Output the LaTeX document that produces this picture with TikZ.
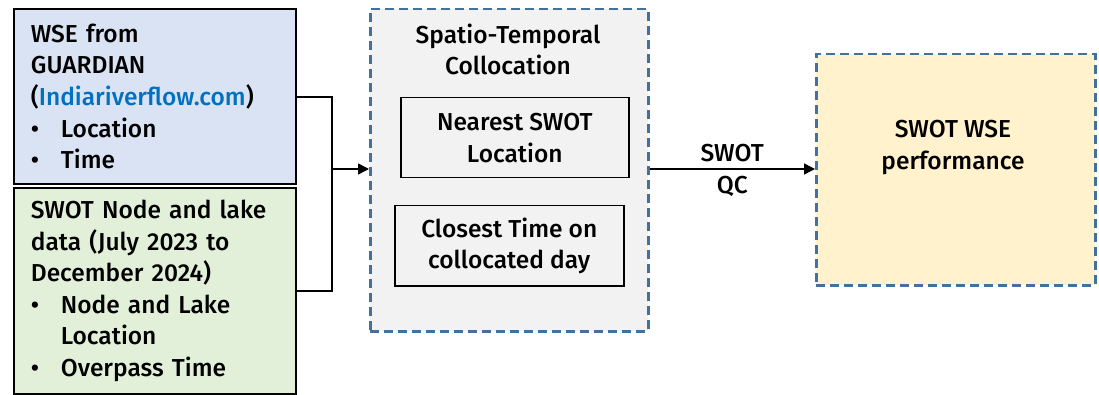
\documentclass[tikz,border=0pt]{standalone}
\usepackage{fontspec}
\setmainfont{Fira Sans}[UprightFont=* Medium]
\usetikzlibrary{arrows.meta}
\definecolor{dashblue}{HTML}{41719C}
\definecolor{boxblue}{HTML}{DAE3F3}
\definecolor{boxgreen}{HTML}{E2F0D9}
\definecolor{boxgray}{HTML}{F2F2F2}
\definecolor{boxyellow}{HTML}{FFF2CC}
\definecolor{linkblue}{HTML}{0070C0}
\newcommand{\bul}{\makebox[30pt][l]{\textbullet}}
\newcommand{\ind}{\hspace*{30pt}}
\tikzset{
  solidbox/.style={draw=black, line width=1.8pt, anchor=north west, inner xsep=17pt, inner ysep=0pt, align=left},
  dashbox/.style={draw=dashblue, line width=2.5pt, dash pattern=on 9pt off 5pt, anchor=north west},
  innerbox/.style={draw=black, line width=1.5pt, anchor=north west, align=center, inner sep=0pt},
  conn/.style={draw=black, line width=1.5pt},
  arr/.style={conn, -{Triangle[length=11pt,width=11pt]}},
}
\begin{document}
\begin{tikzpicture}[x=1pt,y=-1pt, font=\fontsize{24.5}{31.6}\selectfont]
\useasboundingbox (0,0) rectangle (1099,395);
\node[solidbox, fill=boxblue, minimum width=282, minimum height=175, text width=248] (wse) at (13,8)
  {WSE from\\GUARDIAN\\(\textcolor{linkblue}{Indiariverflow.com})\\\bul Location\\\bul Time};
\node[solidbox, fill=boxgreen, minimum width=282, minimum height=206, text width=248] (swot) at (13,187)
  {SWOT Node and lake\\data (July 2023 to\\December 2024)\\\bul Node and Lake\\\ind Location\\\bul Overpass Time};
\node[dashbox, fill=boxgray, minimum width=278, minimum height=322] (coll) at (369,8) {};
\node[align=center, anchor=north] (title) at (508,20) {Spatio-Temporal\\Collocation};
\node[innerbox, minimum width=228, minimum height=80] (near) at (400,97) {Nearest SWOT\\Location};
\node[innerbox, minimum width=229, minimum height=80] (close) at (394,205) {Closest Time on\\collocated day};
\node[dashbox, fill=boxyellow, minimum width=279, minimum height=231, align=center] (perf) at (815,53) {};
\node[align=center, anchor=north] (perftxt) at (953,117) {SWOT WSE\\performance};
\coordinate (j) at (332,169);
\draw[conn] (wse.east |- 0,97) -| (j);
\draw[conn] (swot.east) -| (j);
\draw[arr] (j) -- (j -| coll.west);
\draw[arr] (coll.east |- 0,169) -- node[above, inner sep=6pt] (lab1) {SWOT} node[below, inner sep=6pt] (lab2) {QC} (perf.west |- 0,169);
\end{tikzpicture}
\end{document}
